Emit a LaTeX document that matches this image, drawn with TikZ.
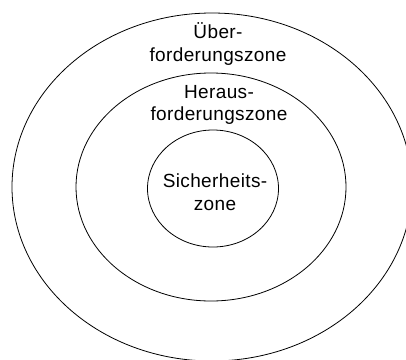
\documentclass[tikz,border=0pt]{standalone}
\usepackage{fontspec}
\setmainfont{Liberation Sans}[LetterSpace=2.0]
\begin{document}
\begin{tikzpicture}[x=1pt,y=-1pt,
  zone/.style={draw=black,line width=0.8pt},
  lbl/.style={align=center,inner sep=0pt,font=\fontsize{19}{22.5}\selectfont}]
\useasboundingbox (0,0) rectangle (406,359);
\clip (0,0) rectangle (406,359);
\draw[zone] (212,187) ellipse [x radius=200, y radius=174];
\draw[zone] (211,187) ellipse [x radius=135, y radius=114];
\draw[zone] (213,188.5) ellipse [x radius=65.5, y radius=58.5];
\node[lbl] (ueber) at (218,44) {Über-\\forderungszone};
\node[lbl] (heraus) at (219,105) {Heraus-\\forderungszone};
\node[lbl] (sicher) at (215,192) {Sicherheits-\\zone};
\end{tikzpicture}
\end{document}
